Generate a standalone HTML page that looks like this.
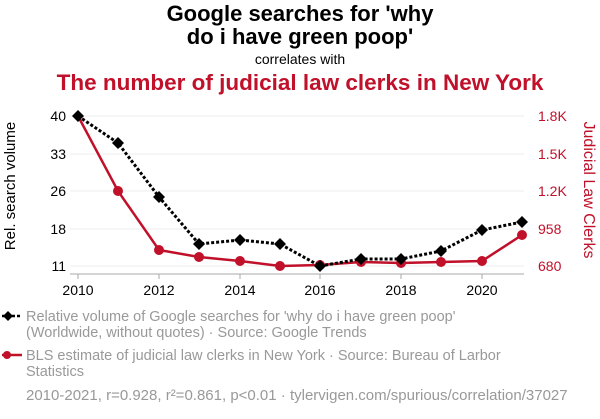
<!DOCTYPE html><html><head><style>body{margin:0;background:#fff;width:600px;height:414px;overflow:hidden;font-family:"Liberation Sans",sans-serif}</style></head><body>
<svg width="600" height="414" xmlns="http://www.w3.org/2000/svg" font-family="Liberation Sans, sans-serif">
<text x="300" y="21" text-anchor="middle" font-size="22" font-weight="bold">Google searches for 'why</text>
<text x="300" y="44" text-anchor="middle" font-size="22" font-weight="bold">do i have green poop'</text>
<text x="300" y="64" text-anchor="middle" font-size="14">correlates with</text>
<text x="300" y="90" text-anchor="middle" font-size="22.5" font-weight="bold" fill="#c0102a">The number of judicial law clerks in New York</text>
<g stroke="#eee" stroke-width="1"><line x1="70" x2="524" y1="116" y2="116"/><line x1="70" x2="524" y1="154" y2="154"/><line x1="70" x2="524" y1="191" y2="191"/><line x1="70" x2="524" y1="229" y2="229"/><line x1="70" x2="524" y1="266" y2="266"/></g>
<line x1="70" x2="524" y1="274" y2="274" stroke="#aaa"/>
<g stroke="#aaa"><line x1="78" x2="78" y1="274" y2="279"/><line x1="159" x2="159" y1="274" y2="279"/><line x1="240" x2="240" y1="274" y2="279"/><line x1="320" x2="320" y1="274" y2="279"/><line x1="401" x2="401" y1="274" y2="279"/><line x1="482" x2="482" y1="274" y2="279"/></g>
<g font-size="14" text-anchor="middle"><text x="78" y="295">2010</text><text x="159" y="295">2012</text><text x="240" y="295">2014</text><text x="320" y="295">2016</text><text x="401" y="295">2018</text><text x="482" y="295">2020</text></g>
<g font-size="14" text-anchor="end"><text x="66" y="121">40</text><text x="66" y="159">33</text><text x="66" y="196">26</text><text x="66" y="234">18</text><text x="66" y="271">11</text></g>
<g font-size="14" fill="#c0102a"><text x="538" y="121">1.8K</text><text x="538" y="159">1.5K</text><text x="538" y="196">1.2K</text><text x="538" y="234">958</text><text x="538" y="271">680</text></g>
<text transform="translate(15,186) rotate(-90)" text-anchor="middle" font-size="15">Rel. search volume</text>
<text transform="translate(584,190) rotate(90)" text-anchor="middle" font-size="16" fill="#c0102a">Judicial Law Clerks</text>
<polyline fill="none" stroke="#c0102a" stroke-width="2.5" points="78,116 118,191 159,250 199,257 240,261 280,266 320,265 361,262 401,263 441,262 482,261 522,235"/>
<g fill="#c0102a"><circle cx="118" cy="191" r="5"/><circle cx="159" cy="250" r="5"/><circle cx="199" cy="257" r="5"/><circle cx="240" cy="261" r="5"/><circle cx="280" cy="266" r="5"/><circle cx="320" cy="265" r="5"/><circle cx="361" cy="262" r="5"/><circle cx="401" cy="263" r="5"/><circle cx="441" cy="262" r="5"/><circle cx="482" cy="261" r="5"/><circle cx="522" cy="235" r="5"/></g>
<polyline fill="none" stroke="#000" stroke-width="3" stroke-dasharray="3,2" points="78,116 118,143 159,197 199,244 240,240 280,244 320,266 361,259 401,259 441,251 482,230 522,222"/>
<g fill="#000"><path d="M78 110l6 6-6 6-6-6z"/><path d="M118 137l6 6-6 6-6-6z"/><path d="M159 191l6 6-6 6-6-6z"/><path d="M199 238l6 6-6 6-6-6z"/><path d="M240 234l6 6-6 6-6-6z"/><path d="M280 238l6 6-6 6-6-6z"/><path d="M320 260l6 6-6 6-6-6z"/><path d="M361 253l6 6-6 6-6-6z"/><path d="M401 253l6 6-6 6-6-6z"/><path d="M441 245l6 6-6 6-6-6z"/><path d="M482 224l6 6-6 6-6-6z"/><path d="M522 216l6 6-6 6-6-6z"/></g>
<line x1="2" x2="22" y1="316" y2="316" stroke="#000" stroke-width="2.5" stroke-dasharray="3,2"/><path d="M8 311l5 5-5 5-5-5z"/>
<g font-size="14.5" fill="#999"><text x="26" y="321">Relative volume of Google searches for 'why do i have green poop'</text><text x="26" y="337">(Worldwide, without quotes) · Source: Google Trends</text>
<text x="26" y="360">BLS estimate of judicial law clerks in New York · Source: Bureau of Larbor</text><text x="26" y="376">Statistics</text>
<text x="26" y="400" font-size="15">2010-2021, r=0.928, r²=0.861, p&lt;0.01 · tylervigen.com/spurious/correlation/37027</text></g>
<line x1="2" x2="22" y1="355" y2="355" stroke="#c0102a" stroke-width="2.5"/><circle cx="7" cy="355" r="4" fill="#c0102a"/>
</svg></body></html>
